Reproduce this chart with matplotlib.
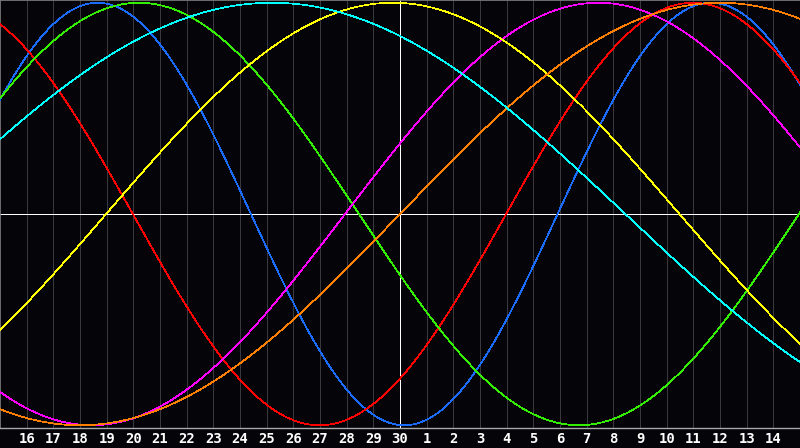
import numpy as np
import matplotlib
matplotlib.use('Agg')
import matplotlib.pyplot as plt

# days shown on the axis (one per grid line)
day_labels = [16, 17, 18, 19, 20, 21, 22, 23, 24, 25, 26, 27, 28, 29, 30,
              1, 2, 3, 4, 5, 6, 7, 8, 9, 10, 11, 12, 13, 14]
today_pos = 15   # position of the "30" line

# cycles: length in days and position where each one crosses zero going up
names   = ['physical', 'emotional', 'intellectual', 'intuitive', 'aesthetic', 'awareness', 'spiritual']
periods = [23, 28, 33, 38, 43, 48, 53]
zero_up = [-2.09, 18.98, 29.96, 12.94, 3.98, 15.0, -3.05]
colors  = ['#1a6cff', '#ff0000', '#33ee00', '#ff00ff', '#ffff00', '#ff8000', '#00ffff']

bg = '#050509'

fig = plt.figure(figsize=(8, 4.48), dpi=100)
fig.patch.set_facecolor(bg)
ax = fig.add_axes([0, 20/448, 1, 428/448])
ax.set_facecolor(bg)

n = len(day_labels) + 1
t = np.linspace(0, n, 1600)

# grid
for i in range(1, n):
    if i == today_pos:
        continue
    ax.axvline(i, color='#3a3a3e', lw=0.5, antialiased=False, zorder=1)

for p, z, c in zip(periods, zero_up, colors):
    ax.plot(t, np.sin(2*np.pi*(t - z)/p), color=c, lw=0.5, antialiased=False, zorder=3)

ax.axhline(0, color='white', lw=0.6, antialiased=False, zorder=2)
ax.axvline(today_pos, color='white', lw=0.6, antialiased=False, zorder=2)

ax.set_xlim(0, n)
ax.set_ylim(-1.013, 1.013)
ax.set_xticks([])
ax.set_yticks([])
for s in ['left', 'top', 'right']:
    ax.spines[s].set_color('#808080')
    ax.spines[s].set_linewidth(0.6)
ax.spines['bottom'].set_color('#a8a8a8')
ax.spines['bottom'].set_linewidth(1.0)

for i, d in enumerate(day_labels):
    fig.text((i + 1)/n, 9/448, str(d), color='white', fontsize=10, fontweight='bold',
             family='DejaVu Sans Mono', ha='center', va='center')

fig.savefig('out.png', dpi=100, facecolor=bg)
